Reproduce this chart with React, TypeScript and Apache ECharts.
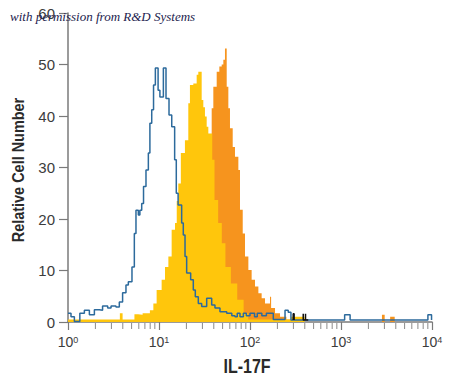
import React, { useEffect, useRef } from "react";
import * as echarts from "echarts";

const FONT = "'Liberation Sans Narrow', 'Liberation Sans', Arial, sans-serif";

// x values are decades (log10 of fluorescence intensity), y values are relative cell counts
const xDecades = [0, 1, 2, 3, 4];
const yTicks = [0, 10, 20, 30, 40, 50, 60];

// isotype control (blue outline)
const blueSteps: [number, number][] = [
  [0.0, 1.7], [0.033, 1.0], [0.07, 0.1], [0.13, 1.7], [0.18, 2.3], [0.235, 1.4], [0.29, 2.4],
  [0.344, 2.3], [0.38, 3.1], [0.436, 2.7], [0.473, 3.1], [0.527, 2.9], [0.564, 3.9], [0.6, 5.7],
  [0.637, 7.2], [0.663, 7.8], [0.703, 10.7], [0.729, 17.2], [0.747, 21.7], [0.773, 20.8],
  [0.79, 21.7], [0.81, 23.0], [0.83, 26.3], [0.857, 29.5], [0.883, 32.8], [0.9, 38.6],
  [0.92, 41.2], [0.94, 46.0], [0.96, 49.3], [0.99, 45.0], [1.01, 43.7], [1.048, 49.3],
  [1.077, 43.4], [1.11, 40.2], [1.14, 37.9], [1.172, 31.5], [1.19, 25.0], [1.21, 22.7],
  [1.249, 19.2], [1.267, 16.9], [1.286, 12.7], [1.304, 9.5], [1.348, 8.2], [1.377, 6.2],
  [1.399, 4.9], [1.432, 3.6], [1.469, 3.0], [1.524, 4.6], [1.579, 3.3], [1.615, 2.7],
  [1.67, 2.0], [1.744, 1.7], [1.8, 1.2], [1.835, 1.0], [1.86, 1.7], [1.89, 1.0], [1.927, 1.7],
  [1.96, 1.2], [2.0, 1.7], [2.05, 1.0], [2.08, 1.7], [2.13, 1.2], [2.18, 1.7], [2.256, 0.5],
  [2.385, 2.3], [2.42, 1.9], [2.45, 0.4], [3.04, 1.4], [3.1, 0.4], [3.955, 1.4], [3.995, 0.4],
  [4.0, 0.4],
];

// anti-IL-17F, unstimulated (yellow fill)
const yellowSteps: [number, number][] = [
  [0.0, 0.5], [0.57, 1.7], [0.6, 0.5], [0.73, 1.5], [0.77, 1.4], [0.82, 1.7], [0.9, 2.3],
  [0.938, 3.6], [0.974, 6.2], [1.029, 8.2], [1.066, 10.7], [1.103, 12.7], [1.139, 17.9],
  [1.176, 19.2], [1.195, 23.5], [1.212, 26.9], [1.24, 32.8], [1.285, 35.3], [1.322, 42.5],
  [1.34, 46.0], [1.377, 46.3], [1.414, 48.0], [1.432, 48.6], [1.469, 43.1], [1.487, 41.7],
  [1.505, 39.9], [1.524, 37.9], [1.542, 36.6], [1.585, 31.5], [1.61, 23.7], [1.65, 19.2],
  [1.69, 15.3], [1.73, 10.7], [1.79, 7.5], [1.86, 4.3], [1.93, 1.7], [1.98, 0.5],
  [2.45, 1.0], [2.6, 0.0], [4.0, 0.0],
];

// anti-IL-17F, stimulated (orange fill)
const orangeSteps: [number, number][] = [
  [0.0, 0.0], [1.2, 0.0], [1.3, 4.0], [1.4, 14.0], [1.48, 26.0], [1.54, 33.0], [1.579, 41.5],
  [1.597, 45.7], [1.634, 48.6], [1.663, 49.6], [1.689, 50.0], [1.707, 50.9], [1.725, 53.1],
  [1.744, 45.7], [1.762, 41.5], [1.78, 37.6], [1.81, 34.0], [1.835, 32.1], [1.872, 29.5],
  [1.89, 21.8], [1.92, 17.2], [1.945, 12.7], [1.982, 10.1], [2.018, 8.2], [2.055, 6.9],
  [2.092, 5.6], [2.128, 4.6], [2.165, 3.6], [2.22, 4.9], [2.232, 2.7], [2.275, 1.7],
  [2.33, 1.0], [2.4, 0.5], [2.48, 0.0], [3.45, 1.4], [3.48, 0.0], [3.54, 1.0], [3.59, 0.0],
  [4.0, 0.0],
];

// small black events near the baseline
const blackMarks: (number | null)[][] = [
  [2.475, 0.4], [2.475, 1.6], [2.485, 1.6], [2.485, 0.4], [null, null],
  [2.585, 1.6], [2.585, 0.4], [2.61, 0.4], [2.61, 1.6], [2.61, 0.4], [2.64, 0.4],
];

export default function App() {
  const ref = useRef<HTMLDivElement>(null);
  useEffect(() => {
    const chart = echarts.init(ref.current!, null, { renderer: "svg" });
    const minorTicks: number[][] = [];
    for (let d = 0; d < 4; d++) for (let k = 2; k <= 9; k++) minorTicks.push([d + Math.log10(k), 0]);

    chart.setOption({
      animation: false,
      backgroundColor: "#ffffff",
      grid: { left: 68, right: 18, top: 13, bottom: 63, containLabel: false },
      xAxis: {
        type: "value",
        min: 0,
        max: 4,
        interval: 1,
        axisLine: { show: true, lineStyle: { color: "#7a7a7a", width: 1.5 } },
        axisTick: { show: true, length: 8, lineStyle: { color: "#7a7a7a", width: 1.2 } },
        splitLine: { show: false },
        axisLabel: {
          margin: 13,
          formatter: (v: number) => (xDecades.includes(v) ? `{b|10}{s|${v}}` : ""),
          rich: {
            b: { fontFamily: FONT, fontSize: 14, color: "#3c3c3c", lineHeight: 14 },
            s: { fontFamily: FONT, fontSize: 9, color: "#3c3c3c", verticalAlign: "top", lineHeight: 9 },
          },
        },
      },
      yAxis: {
        type: "value",
        min: 0,
        max: 60,
        interval: 10,
        axisLine: { show: true, lineStyle: { color: "#7a7a7a", width: 1.5 } },
        axisTick: { show: true, length: 9, lineStyle: { color: "#7a7a7a", width: 1.2 } },
        splitLine: { show: false },
        axisLabel: {
          margin: 13,
          fontFamily: FONT,
          fontSize: 15,
          color: "#3c3c3c",
          formatter: (v: number) => (yTicks.includes(v) ? String(v) : ""),
        },
      },
      graphic: [
        {
          type: "text",
          left: 10,
          top: 10,
          z: 100,
          style: {
            text: "with permission from R&D Systems",
            font: "italic 13px 'Liberation Serif', 'DejaVu Serif', serif",
            fill: "#1c1c4e",
          },
        },
        {
          type: "text",
          x: 18,
          y: 170,
          rotation: Math.PI / 2,
          scaleX: 0.85,
          style: {
            text: "Relative Cell Number",
            font: `bold 17px ${FONT}`,
            fill: "#2a2a2a",
            align: "center",
            verticalAlign: "middle",
          },
        },
        {
          type: "text",
          x: 247,
          y: 366,
          scaleX: 0.8,
          style: {
            text: "IL-17F",
            font: `bold 20px ${FONT}`,
            fill: "#2a2a2a",
            align: "center",
            verticalAlign: "middle",
          },
        },
      ],
      series: [
        {
          type: "line",
          step: "end",
          data: orangeSteps,
          symbol: "none",
          lineStyle: { width: 0, opacity: 0 },
          areaStyle: { color: "#F6941E", opacity: 1 },
          z: 1,
          silent: true,
        },
        {
          type: "line",
          step: "end",
          data: yellowSteps,
          symbol: "none",
          lineStyle: { width: 0, opacity: 0 },
          areaStyle: { color: "#FFC60C", opacity: 1 },
          z: 2,
          silent: true,
        },
        {
          type: "line",
          step: "end",
          data: blueSteps,
          symbol: "none",
          lineStyle: { color: "#2c6a9c", width: 1.5 },
          z: 3,
          silent: true,
        },
        {
          type: "line",
          data: blackMarks,
          symbol: "none",
          connectNulls: false,
          lineStyle: { color: "#111111", width: 1.5 },
          z: 4,
          silent: true,
        },
        {
          type: "custom",
          data: minorTicks,
          silent: true,
          clip: false,
          z: 5,
          renderItem: (_p: any, api: any) => {
            const pt = api.coord([api.value(0), 0]);
            return {
              type: "line",
              shape: { x1: pt[0], y1: pt[1] + 1, x2: pt[0], y2: pt[1] + 7 },
              style: { stroke: "#8a8a8a", lineWidth: 1 },
            };
          },
        },
      ],
    });
    return () => chart.dispose();
  }, []);
  return (
    <div
      ref={ref}
      style={{ position: "fixed", left: 0, top: 0, width: 450, height: 385, background: "#fff" }}
    />
  );
}
